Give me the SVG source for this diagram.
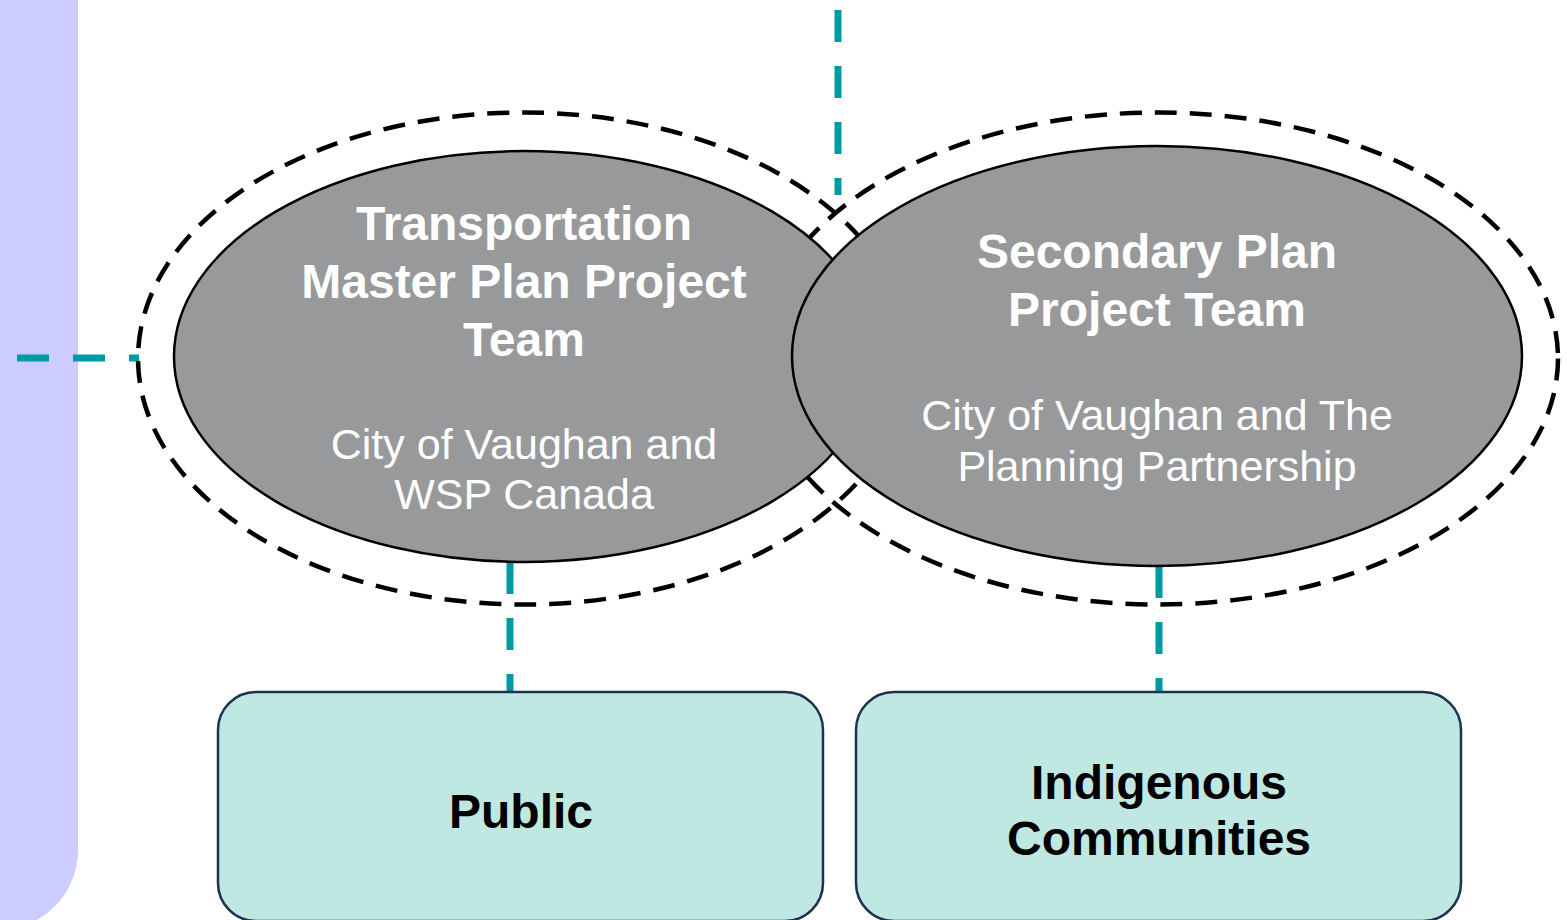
<svg xmlns="http://www.w3.org/2000/svg" width="1567" height="920" viewBox="0 0 1567 920">
<style>
.conn{stroke:#0099A4;stroke-width:7;stroke-dasharray:32 24;fill:none}
.halo{fill:none;stroke:#000;stroke-width:4.5;stroke-dasharray:22 13}
.team{fill:#98999B;stroke:#000;stroke-width:2.5}
.box{fill:#C0E8E3;stroke:#1F3150;stroke-width:2.5}
.t{font-family:"Liberation Sans",Arial,sans-serif;text-anchor:middle}
.tb{font-weight:bold;font-size:48px}
.ts{font-size:43px}
</style>
<rect id="panel" x="-120" y="-100" width="198" height="1030" rx="80" fill="#CCCCFF"/>
<g id="connectors">
<line class="conn" x1="17" y1="358" x2="139" y2="358"/>
<line class="conn" x1="838" y1="10" x2="838" y2="195"/>
<line class="conn" x1="510" y1="562" x2="510" y2="692"/>
<line class="conn" x1="1159" y1="566" x2="1159" y2="692"/>
</g>
<g id="halos">
<ellipse class="halo" cx="524" cy="358.5" rx="386" ry="246"/>
<ellipse class="halo" cx="1158" cy="358.5" rx="400" ry="246"/>
</g>
<g id="tmp-team">
<ellipse class="team" cx="524" cy="356.5" rx="350" ry="205.5"/>
<text class="t tb" fill="#fff"><tspan x="524" y="240">Transportation</tspan><tspan x="524" y="298">Master Plan Project</tspan><tspan x="524" y="356">Team</tspan></text>
<text class="t ts" fill="#fff"><tspan x="524" y="459">City of Vaughan and</tspan><tspan x="524" y="509">WSP Canada</tspan></text>
</g>
<g id="sp-team">
<ellipse class="team" cx="1157" cy="356" rx="365" ry="210"/>
<text class="t tb" fill="#fff"><tspan x="1157" y="268">Secondary Plan</tspan><tspan x="1157" y="326">Project Team</tspan></text>
<text class="t ts" fill="#fff"><tspan x="1157" y="430">City of Vaughan and The</tspan><tspan x="1157" y="481">Planning Partnership</tspan></text>
</g>
<g id="public">
<rect class="box" x="218" y="692" width="605" height="229" rx="38"/>
<text class="t tb" x="521" y="828" fill="#000">Public</text>
</g>
<g id="indigenous">
<rect class="box" x="856" y="692" width="605" height="229" rx="38"/>
<text class="t tb" fill="#000"><tspan x="1159" y="799">Indigenous</tspan><tspan x="1159" y="855">Communities</tspan></text>
</g>
</svg>
